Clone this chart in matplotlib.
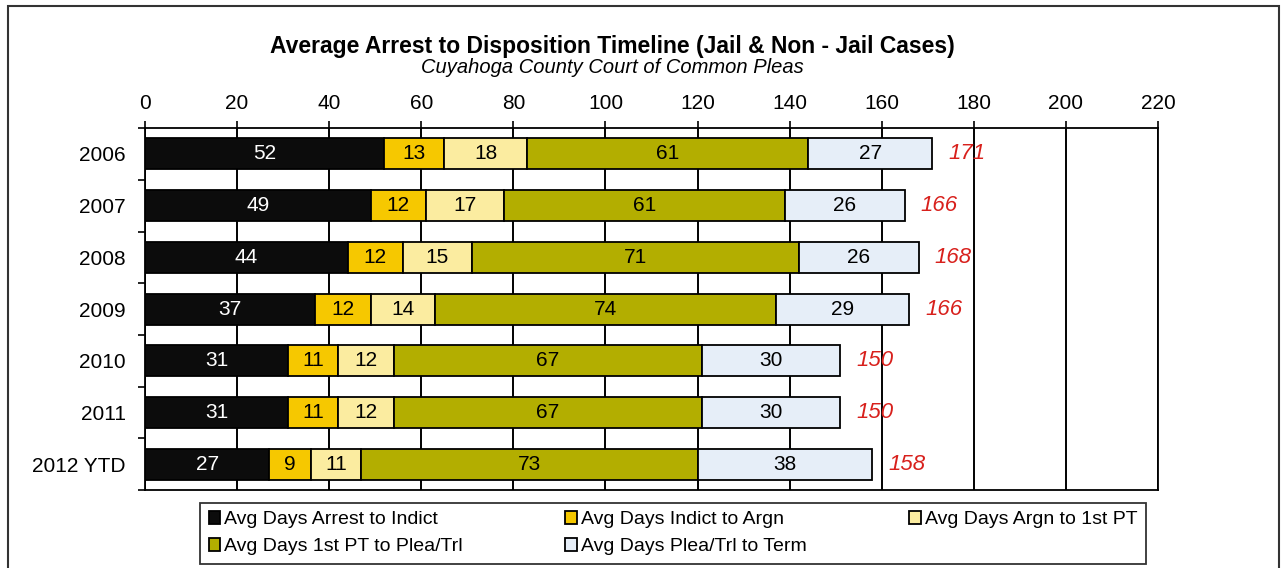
import matplotlib.pyplot as plt
import numpy as np
from matplotlib.patches import Rectangle

plt.rcParams['font.family'] = ['Liberation Sans', 'DejaVu Sans']

years = ["2006", "2007", "2008", "2009", "2010", "2011", "2012 YTD"]
arrest_indict = [52, 49, 44, 37, 31, 31, 27]
indict_argn = [13, 12, 12, 12, 11, 11, 9]
argn_pt = [18, 17, 15, 14, 12, 12, 11]
pt_plea = [61, 61, 71, 74, 67, 67, 73]
plea_term = [27, 26, 26, 29, 30, 30, 38]
totals = [171, 166, 168, 166, 150, 150, 158]

series = [arrest_indict, indict_argn, argn_pt, pt_plea, plea_term]
names = ["Avg Days Arrest to Indict", "Avg Days Indict to Argn", "Avg Days Argn to 1st PT",
         "Avg Days 1st PT to Plea/Trl", "Avg Days Plea/Trl to Term"]
colors = ["#0c0c0c", "#f6c800", "#fbeca0", "#b3ae00", "#e6eef8"]
txt_colors = ["white", "black", "black", "black", "black"]

fig = plt.figure(figsize=(12.87, 5.68), dpi=100)
ax = fig.add_axes([0.1127, 0.137, 0.787, 0.6376])

# outer frame like the pasted chart
fig.patches.append(Rectangle((0.006, -0.1), 0.988, 1.09, transform=fig.transFigure,
                             fill=False, edgecolor="#333333", linewidth=1.5))

y = np.arange(len(years))
left = np.zeros(len(years))
handles = []
for vals, name, c, tc in zip(series, names, colors, txt_colors):
    b = ax.barh(y, vals, left=left, height=0.6, color=c, edgecolor="black",
                linewidth=1.3, label=name, zorder=3)
    handles.append(b)
    for yi, (l, v) in enumerate(zip(left, vals)):
        ax.text(l + v / 2, yi, str(v), ha="center", va="center", color=tc,
                fontsize=15, zorder=4)
    left = left + np.array(vals)

for yi, (end, t) in enumerate(zip(left, totals)):
    ax.text(end + 3.5, yi, str(t), ha="left", va="center", color="#d8201c",
            fontsize=16, style="italic", zorder=4)

ax.set_xlim(0, 220)
ax.set_ylim(6.5, -0.5)
ax.set_xticks(np.arange(0, 221, 20))
ax.xaxis.tick_top()
ax.tick_params(axis="x", labelsize=15, length=5, width=1.2, pad=6)
ax.set_yticks(y)
ax.set_yticklabels(years, fontsize=15)
ax.set_yticks(np.arange(-0.5, 7, 1), minor=True)
ax.tick_params(axis="y", which="major", length=0, pad=14)
ax.tick_params(axis="y", which="minor", length=5, width=1.2)
ax.grid(axis="x", color="black", linewidth=1.4, zorder=0)
ax.set_axisbelow(True)
for s in ax.spines.values():
    s.set_linewidth(1.3)

fig.text(0.4755, 0.918, "Average Arrest to Disposition Timeline (Jail & Non - Jail Cases)",
         ha="center", va="center", fontsize=16.5, fontweight="bold")
fig.text(0.4755, 0.882, "Cuyahoga County Court of Common Pleas",
         ha="center", va="center", fontsize=14.5, style="italic")

order = [0, 3, 1, 4, 2]
leg = fig.legend([handles[i] for i in order], [names[i] for i in order], ncol=3,
                 loc="upper left", bbox_to_anchor=(0.1554, 0.009, 0.735, 0.106),
                 mode="expand", fontsize=14, frameon=True, fancybox=False,
                 handlelength=0.6, handleheight=0.6, handletextpad=0.2,
                 borderpad=0.45, labelspacing=0.5, borderaxespad=0,
                 edgecolor="black")
leg.get_frame().set_linewidth(1.3)

fig.savefig("out.png", dpi=100)
